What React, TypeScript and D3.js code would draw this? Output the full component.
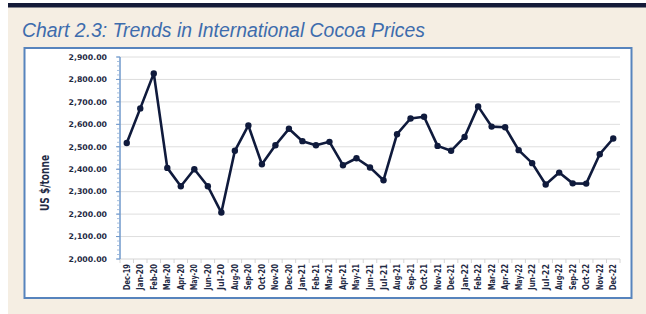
import React from 'react'
import * as d3 from 'd3'

const months = [
  'Dec-19',
  'Jan-20', 'Feb-20', 'Mar-20', 'Apr-20', 'May-20', 'Jun-20', 'Jul-20', 'Aug-20', 'Sep-20', 'Oct-20', 'Nov-20', 'Dec-20',
  'Jan-21', 'Feb-21', 'Mar-21', 'Apr-21', 'May-21', 'Jun-21', 'Jul-21', 'Aug-21', 'Sep-21', 'Oct-21', 'Nov-21', 'Dec-21',
  'Jan-22', 'Feb-22', 'Mar-22', 'Apr-22', 'May-22', 'Jun-22', 'Jul-22', 'Aug-22', 'Sep-22', 'Oct-22', 'Nov-22', 'Dec-22',
]

const prices = [
  2517,
  2671, 2827, 2406, 2324, 2400, 2324, 2207, 2482, 2595, 2422, 2507, 2580,
  2525, 2507, 2522, 2418, 2449, 2408, 2351, 2556, 2626, 2634, 2504, 2482,
  2544, 2680, 2590, 2587, 2485, 2427, 2332, 2385, 2337, 2336, 2467, 2537,
]

const yTicks = [2000, 2100, 2200, 2300, 2400, 2500, 2600, 2700, 2800, 2900]

const W = 646
const H = 314
const plot = { left: 120, right: 620, top: 57, bottom: 259 }
const navy = '#0f1a3c'
const condensed = '"DejaVu Sans Condensed", "DejaVu Sans", sans-serif'

export default function App() {
  const x = d3.scaleBand<string>().domain(months).range([plot.left, plot.right])
  const y = d3.scaleLinear().domain([2000, 2900]).range([plot.bottom, plot.top])
  const minorTicks = d3.range(2000, 2901, 20)

  const line = d3.line<number>()
    .x((d, i) => (x(months[i]) as number) + x.bandwidth() / 2)
    .y(d => y(d))

  const fmt = d3.format(',.2f')

  return (
    <div style={{ position: 'absolute', left: 0, top: 0 }}>
      <svg width={W} height={H} style={{ display: 'block' }}>
        {/* page background */}
        <rect x={8} y={3} width={W - 8} height={H - 3} fill='#f5eee3' />
        <rect x={8} y={3} width={W - 8} height={4.5} fill='#141a38' />

        <text x={22} y={37} fill='#3d6cad' fontSize={19.5} fontStyle='italic'
          fontFamily='"Liberation Sans", Arial, sans-serif' textLength={403} lengthAdjust='spacingAndGlyphs'>
          Chart 2.3: Trends in International Cocoa Prices
        </text>

        {/* chart panel */}
        <rect x={24.5} y={48} width={607} height={250} fill='#ffffff' stroke='#5784bd' strokeWidth={2} />

        {/* gridlines */}
        {yTicks.filter(t => t !== 2000).map(t => (
          <line key={'g' + t} x1={plot.left} x2={plot.right} y1={y(t)} y2={y(t)} stroke='#dedede' strokeWidth={1} />
        ))}

        {/* x axis */}
        <line x1={plot.left} x2={plot.right} y1={plot.bottom} y2={plot.bottom} stroke='#d4d4d4' strokeWidth={1} />
        {months.map((m, i) => (
          <line key={'xt' + i} x1={x(m) as number} x2={x(m) as number} y1={plot.bottom} y2={plot.bottom + 4}
            stroke='#d4d4d4' strokeWidth={1} />
        ))}
        <line x1={plot.right} x2={plot.right} y1={plot.bottom} y2={plot.bottom + 4} stroke='#d4d4d4' strokeWidth={1} />
        {months.map(m => {
          const cx = (x(m) as number) + x.bandwidth() / 2
          return (
            <text key={'xl' + m} transform={`translate(${cx + 3},${plot.bottom + 5}) rotate(-90)`}
              textAnchor='end' fontSize={9} fontWeight='bold' fill='#1f2a44' fontFamily={condensed}
              style={{ fontStretch: 'condensed' }} textLength={26} lengthAdjust='spacingAndGlyphs'>
              {m}
            </text>
          )
        })}

        {/* y axis */}
        <line x1={plot.left} x2={plot.left} y1={plot.top} y2={plot.bottom} stroke='#6f98cb' strokeWidth={1.5} />
        {minorTicks.map(t => (
          <line key={'mt' + t} x1={plot.left - 3} x2={plot.left} y1={y(t)} y2={y(t)} stroke='#8fb0d8' strokeWidth={0.8} />
        ))}
        {yTicks.map(t => (
          <g key={'yt' + t}>
            <line x1={plot.left - 4} x2={plot.left} y1={y(t)} y2={y(t)} stroke='#6f98cb' strokeWidth={1} />
            <text x={107} y={y(t) + 2.8} textAnchor='end' fontSize={7.8} fontWeight='bold' fill='#1f2a44'
              fontFamily='"DejaVu Sans", Verdana, sans-serif'>
              {fmt(t)}
            </text>
          </g>
        ))}

        <text transform={`translate(49,183) rotate(-90)`} textAnchor='middle' fontSize={12.5} fontWeight='bold'
          fill='#1f2a44' fontFamily={condensed} style={{ fontStretch: 'condensed' }}
          textLength={56} lengthAdjust='spacingAndGlyphs'>
          US $/tonne
        </text>

        {/* series */}
        <path d={line(prices) as string} fill='none' stroke={navy} strokeWidth={2.6} strokeLinejoin='round' />
        {prices.map((p, i) => (
          <circle key={'pt' + i} cx={(x(months[i]) as number) + x.bandwidth() / 2} cy={y(p)} r={3.2} fill={navy} />
        ))}
      </svg>
    </div>
  )
}
